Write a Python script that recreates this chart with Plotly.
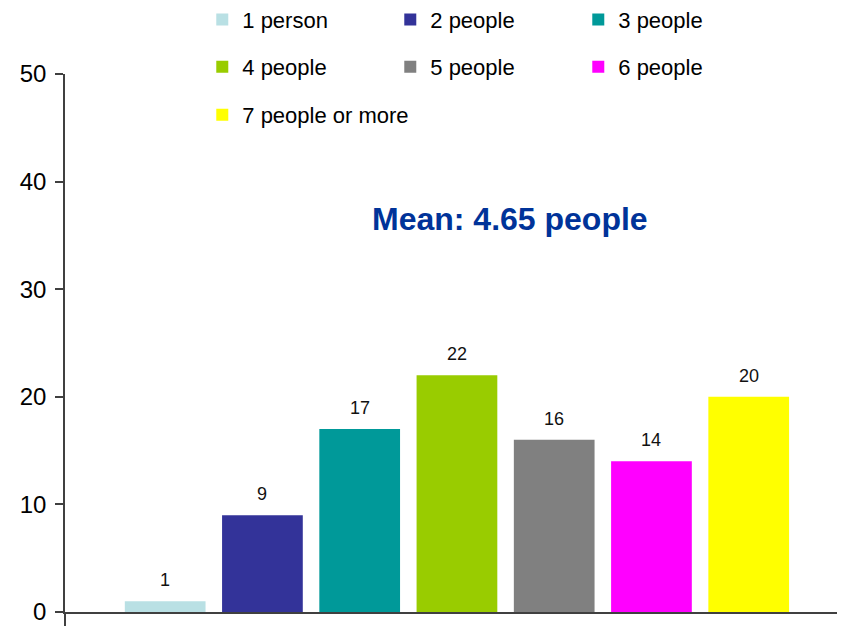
import plotly.graph_objects as go

categories = ["1 person", "2 people", "3 people", "4 people", "5 people", "6 people", "7 people or more"]
values = [1, 9, 17, 22, 16, 14, 20]
positions = [1, 2, 3, 4, 5, 6, 7]
colors = ["#B9E0E4", "#333399", "#009999", "#99CC00", "#808080", "#FF00FF", "#FFFF00"]
y_ticks = [0, 10, 20, 30, 40, 50]
mean_text = "Mean: 4.65 people"

FONT = "Liberation Sans, Arial, sans-serif"
AXIS_COLOR = "#404040"

legend_of = ["legend", "legend", "legend", "legend2", "legend2", "legend2", "legend3"]

fig = go.Figure()
for cat, val, pos, col, lg in zip(categories, values, positions, colors, legend_of):
    fig.add_trace(go.Bar(
        x=[pos], y=[val], name=cat, marker=dict(color=col, line=dict(width=0)),
        width=0.83, legend=lg, hoverinfo="skip",
    ))

for val, pos in zip(values, positions):
    fig.add_annotation(x=pos, y=val, text=str(val), showarrow=False, yanchor="bottom",
                       yshift=9, font=dict(family=FONT, size=18, color="#111111"))

fig.add_annotation(x=0.5705, y=0.7305, xref="paper", yref="paper", text="<b>%s</b>" % mean_text,
                   showarrow=False, xanchor="center", yanchor="middle",
                   font=dict(family=FONT, size=32, color="#003399"))

leg_common = dict(orientation="h", xanchor="left", yanchor="middle", x=0.176,
                  bgcolor="rgba(0,0,0,0)",
                  font=dict(family=FONT, size=22, color="#000000"), traceorder="normal")

fig.update_layout(
    width=845, height=626,
    margin=dict(l=57, r=8, t=66, b=22, autoexpand=False),
    paper_bgcolor="white", plot_bgcolor="white",
    barmode="overlay",
    font=dict(family=FONT, color="#000000"),
    legend=dict(y=1.101, entrywidth=143, entrywidthmode="pixels", **leg_common),
    legend2=dict(y=1.013, entrywidth=143, entrywidthmode="pixels", **leg_common),
    legend3=dict(y=0.924, **leg_common),
    xaxis=dict(range=[-0.03, 7.99], showgrid=False, zeroline=False, showline=True,
               linecolor=AXIS_COLOR, linewidth=1.5, tickmode="array", tickvals=[-0.03],
               ticks="outside", ticklen=14, tickcolor=AXIS_COLOR, tickwidth=1.5,
               showticklabels=False),
    yaxis=dict(range=[0, 50], tickvals=y_ticks, showgrid=False, zeroline=False,
               showline=True, linecolor=AXIS_COLOR, linewidth=1.5, ticks="outside",
               ticklen=8, tickcolor=AXIS_COLOR, tickwidth=1.5, ticklabelstandoff=4,
               tickfont=dict(family=FONT, size=24, color="#000000")),
)

fig.write_html("out.html")
